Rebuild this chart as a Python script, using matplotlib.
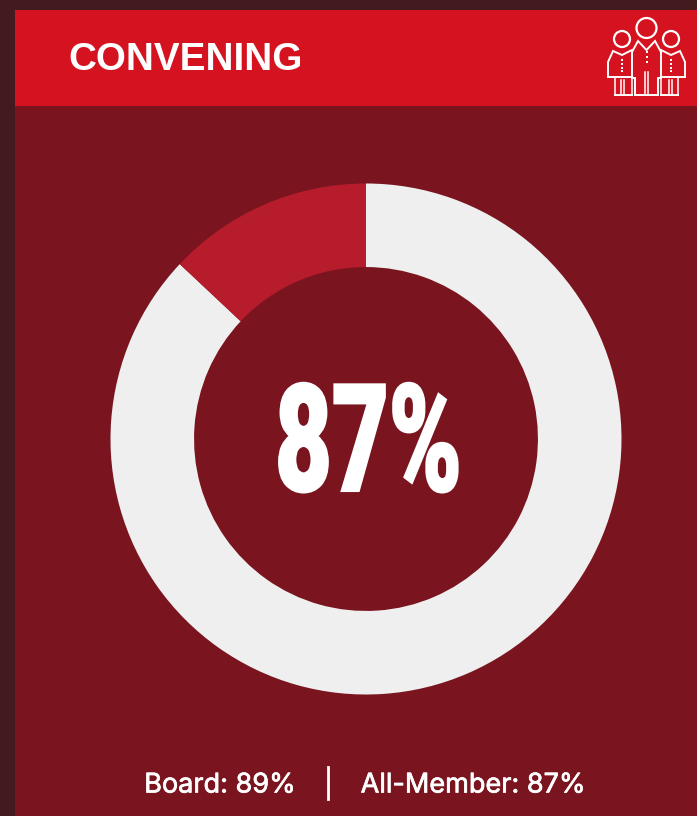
import matplotlib
matplotlib.use('Agg')
import matplotlib.pyplot as plt
import matplotlib.patheffects as pe
from matplotlib.patches import Circle, Rectangle
from matplotlib.transforms import Affine2D


# Data

title = 'CONVENING'
share_values = [87, 13]
big_label = '87%'
board_label = 'Board: 89%'
member_label = 'All-Member: 87%'

# Colors

OUTER_BG = '#431b1e'
PANEL_BG = '#7a1520'
HEADER_BG = '#d5121f'
RING_LIGHT = '#efefef'
RING_DARK = '#b71c2c'

W, H = 697, 816


class Condensed(pe.AbstractPathEffect):
    """
    Squeeze text horizontally and thicken it with a mitered outline.
    """

    def __init__(self, xscale, stroke):
        super().__init__()
        self.xscale = xscale
        self.stroke = stroke

    def draw_path(self, renderer, gc, tpath, affine, rgbFace):
        gc0 = renderer.new_gc()
        gc0.copy_properties(gc)
        gc0.set_linewidth(self.stroke)
        gc0.set_foreground('white')
        gc0.set_joinstyle('miter')
        renderer.draw_path(gc0, tpath, Affine2D().scale(self.xscale, 1) + affine, rgbFace)
        gc0.restore()


def pixel_axes(zorder):
    """
    Full-figure axes with limits in pixels, y pointing down.
    """
    new_ax = fig.add_axes([0, 0, 1, 1], zorder=zorder)
    new_ax.set_xlim(0, W)
    new_ax.set_ylim(H, 0)
    new_ax.axis('off')
    new_ax.patch.set_alpha(0)
    return new_ax


def draw_person(ax, head, body, legs, dots):
    """
    Draw one outlined figure of the header icon.
    """
    ax.add_patch(Circle(head[:2], head[2], fill=False, ec='white', lw=1.6))
    ax.plot(*zip(*body), color='white', lw=1.4, solid_joinstyle='miter')
    for x, y0, y1 in legs:
        ax.plot([x, x], [y0, y1], color='white', lw=1.1)
    ax.plot(*zip(*dots), ls='none', marker='s', ms=2, color='white', mew=0)


fig = plt.figure(figsize=(W / 100, H / 100), dpi=100, facecolor=OUTER_BG)

# Panel and header sit behind the donut
ax_bg = pixel_axes(0)
ax_bg.add_patch(Rectangle((15, 10), 682, 806, color=PANEL_BG, lw=0))
ax_bg.add_patch(Rectangle((15, 10), 682, 96, color=HEADER_BG, lw=0))

# Donut on its own axes, running clockwise from the top
cx, cy, r = 366, 439, 255.5
ax_pie = fig.add_axes([(cx - r) / W, 1 - (cy + r) / H, 2 * r / W, 2 * r / H], zorder=1)
ax_pie.pie(share_values, colors=[RING_LIGHT, RING_DARK], startangle=90,
           counterclock=False, radius=1, wedgeprops={'width': 0.327, 'linewidth': 0})
ax_pie.set_xlim(-1, 1)
ax_pie.set_ylim(-1, 1)

# Text and icon on top
ax = pixel_axes(2)

ax.text(68, 56, title, color='white', fontsize=27.8, fontweight='bold',
        family='Liberation Sans', va='center_baseline', ha='left')

draw_person(ax, (622, 39, 8),
            [(632, 77), (608, 77), (608, 62), (613, 51), (622, 55), (632, 50)],
            [(615, 77, 95), (621, 80, 95), (624, 80, 95), (632, 77, 95)],
            [(622, 60), (622, 64), (622, 68), (622, 71)])
ax.plot([615, 632], [95, 95], color='white', lw=1.4)
draw_person(ax, (671, 39, 8),
            [(661, 77), (685, 77), (685, 62), (680, 51), (671, 55), (661, 50)],
            [(678, 77, 95), (672, 80, 95), (669, 80, 95), (661, 77, 95)],
            [(671, 60), (671, 64), (671, 68), (671, 71)])
ax.plot([661, 678], [95, 95], color='white', lw=1.4)
draw_person(ax, (646.5, 28, 10),
            [(635, 95), (635, 78), (632, 78), (632, 52), (638, 41), (646.5, 50),
             (655, 41), (661, 52), (661, 78), (658, 78), (658, 95), (635, 95)],
            [(645, 72, 95), (648, 72, 95)],
            [(646.5, 52), (646.5, 57), (646.5, 62)])

big = ax.text(275, 491, big_label, color='white', fontsize=108, fontweight='black',
              family='Roboto', ha='left', va='baseline')
big.set_path_effects([Condensed(0.655, 1.5)])

small_weight = [pe.withStroke(linewidth=0.5, foreground='white')]
ax.text(220, 785.5, board_label, color='white', fontsize=19.5, family='Inter',
        ha='center', va='center', path_effects=small_weight)
ax.plot([328, 328], [767, 799], color='white', lw=2)
ax.text(473, 785.5, member_label, color='white', fontsize=19.5, family='Inter',
        ha='center', va='center', path_effects=small_weight)

fig.savefig('out.png', dpi=100, facecolor=fig.get_facecolor())
